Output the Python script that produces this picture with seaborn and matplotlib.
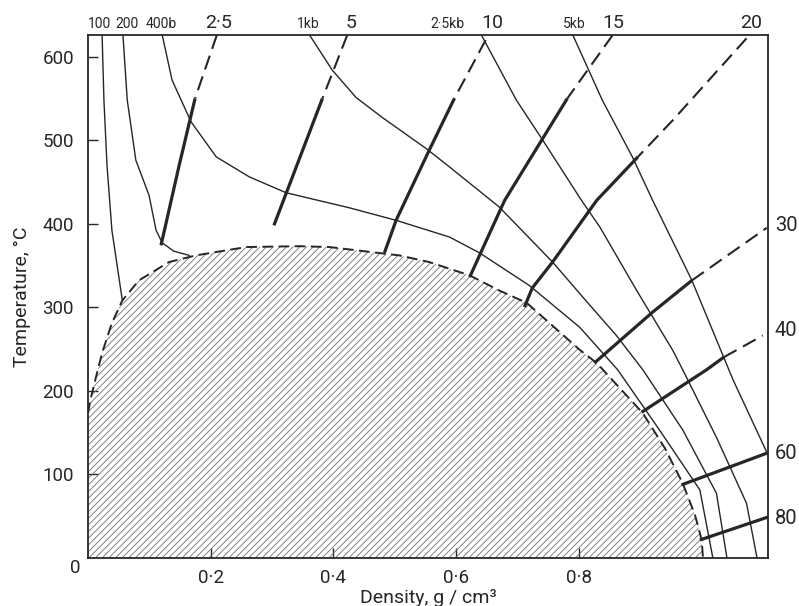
import matplotlib
matplotlib.use("Agg")
import matplotlib.pyplot as plt
import seaborn as sns

# Liquid-vapour boundary (dashed, hatched underneath)
sat_density = [0.0, 0.005, 0.013, 0.023, 0.039, 0.056, 0.083, 0.132, 0.176, 0.258, 0.344, 0.393,
               0.507, 0.556, 0.622, 0.670, 0.715, 0.801, 0.829, 0.904, 0.940, 0.969, 0.989, 1.000, 1.002]
sat_temp = [173, 192, 216, 245, 281, 308, 332, 354, 362, 372, 373, 372,
            362, 354, 338, 320, 305, 249, 233, 173, 131, 89, 51, 21, 0]

# Isobars (thin lines)
p100_d = [0.023, 0.026, 0.031, 0.039, 0.056]
p100_T = [626, 548, 470, 392, 308]
p200_d = [0.057, 0.064, 0.078, 0.0995, 0.111, 0.121, 0.140, 0.165]
p200_T = [626, 548, 476, 434, 392, 377, 367, 362]
p400_d = [0.121, 0.137, 0.168, 0.209, 0.263, 0.323, 0.426, 0.502, 0.589, 0.638, 0.719, 0.801,
          0.863, 0.931, 0.997, 1.018]
p400_T = [626, 572, 522, 480, 456, 437, 419, 404, 384, 365, 326, 276, 225, 153, 81, 0]
p1k_d = [0.361, 0.398, 0.437, 0.480, 0.551, 0.589, 0.670, 0.757, 0.811, 0.861, 0.904, 0.969, 1.024, 1.041]
p1k_T = [626, 584, 551, 527, 490, 468, 420, 354, 308, 266, 225, 153, 77, 0]
p2k5_d = [0.641, 0.698, 0.741, 0.804, 0.834, 0.894, 0.953, 0.969, 1.024, 1.073, 1.090]
p2k5_T = [626, 548, 500, 428, 396, 320, 248, 225, 144, 65, 0]
p5k_d = [0.790, 0.838, 0.887, 0.920, 0.984, 1.051, 1.108]
p5k_T = [626, 548, 480, 428, 332, 213, 123]

# Lines of equal dielectric constant (thick, dashed where extrapolated)
e2_5_d, e2_5_T = [0.1745, 0.148, 0.119], [550, 468, 374]
e2_5_xd, e2_5_xT = [0.210, 0.1745], [626, 550]
e5_d, e5_T = [0.382, 0.303], [550, 398]
e5_xd, e5_xT = [0.4225, 0.382], [626, 550]
e10_d, e10_T = [0.597, 0.556, 0.502, 0.483], [550, 488, 404, 365]
e10_xd, e10_xT = [0.648, 0.597], [620, 550]
e15_d, e15_T = [0.781, 0.679, 0.638, 0.622], [550, 428, 362, 336]
e15_xd, e15_xT = [0.855, 0.781], [626, 550]
e20_d, e20_T = [0.896, 0.829, 0.757, 0.724, 0.711], [480, 428, 354, 323, 300]
e20_xd, e20_xT = [1.073, 0.953, 0.896], [622, 524, 480]
e30_d, e30_T = [0.825, 0.920, 0.984], [233, 294, 332]
e30_xd, e30_xT = [0.984, 1.106], [332, 395]
e40_d, e40_T = [0.902, 1.008, 1.036], [174, 225, 240]
e40_xd, e40_xT = [1.036, 1.0995], [240, 266]
e60_d, e60_T = [0.967, 1.106], [87, 125]
e80_d, e80_T = [0.997, 1.108], [21, 48.5]

top_labels = ["100", "200", "400b", "2·5", "1kb", "5", "2·5kb", "10", "5kb", "15", "20"]
top_label_x = [0.019, 0.064, 0.120, 0.212, 0.359, 0.429, 0.586, 0.659, 0.793, 0.856, 1.080]
top_label_big = [False, False, False, True, False, True, False, True, False, True, True]
right_labels = ["30", "40", "60", "80"]
right_label_T = [398, 272, 125, 47]

xtick_vals = [0.2, 0.4, 0.6, 0.8]
xtick_text = ["0·2", "0·4", "0·6", "0·8"]
ytick_vals = [100, 200, 300, 400, 500, 600]

sns.set_style("ticks")
plt.rcParams["font.family"] = ["Roboto", "DejaVu Sans"]
plt.rcParams["hatch.linewidth"] = 0.6
ink = "#262626"

fig = plt.figure(figsize=(7.99, 6.06), dpi=100)
ax = fig.add_axes([0.1101, 0.0800, 0.8511, 0.8622])

# hatched two-phase region
ax.fill(sat_density + [0.0], sat_temp + [0], facecolor="none", edgecolor="#707070",
        hatch="/////", linewidth=0)
sns.lineplot(x=sat_density, y=sat_temp, sort=False, estimator=None, ax=ax, color=ink,
             linewidth=1.4, linestyle=(0, (5.5, 2.8)))

for d, t in [(p100_d, p100_T), (p200_d, p200_T), (p400_d, p400_T),
             (p1k_d, p1k_T), (p2k5_d, p2k5_T), (p5k_d, p5k_T)]:
    sns.lineplot(x=d, y=t, sort=False, estimator=None, ax=ax, color=ink, linewidth=1.0)

solid = [(e2_5_d, e2_5_T), (e5_d, e5_T), (e10_d, e10_T), (e15_d, e15_T), (e20_d, e20_T),
         (e30_d, e30_T), (e40_d, e40_T), (e60_d, e60_T), (e80_d, e80_T)]
dashed = [(e2_5_xd, e2_5_xT), (e5_xd, e5_xT), (e10_xd, e10_xT), (e15_xd, e15_xT),
          (e20_xd, e20_xT), (e30_xd, e30_xT), (e40_xd, e40_xT)]
for d, t in solid:
    sns.lineplot(x=d, y=t, sort=False, estimator=None, ax=ax, color=ink, linewidth=2.3,
                 solid_capstyle="butt")
for d, t in dashed:
    sns.lineplot(x=d, y=t, sort=False, estimator=None, ax=ax, color=ink, linewidth=1.5,
                 linestyle=(0, (7, 3.5)))

ax.set_xlim(0, 1.108)
ax.set_ylim(0, 626)
ax.set_xticks(xtick_vals)
ax.set_xticklabels(xtick_text)
ax.set_yticks(ytick_vals)
ax.tick_params(direction="in", length=7, width=1, colors=ink, labelsize=13.5, pad=8)
ax.tick_params(axis="y", pad=10)
for sp in ax.spines.values():
    sp.set_visible(True)
    sp.set_linewidth(1.3)
    sp.set_color(ink)

ax.text(-0.019, -0.02, "0", transform=ax.transAxes, ha="center", va="center",
        fontsize=13.5, color=ink)
ax.set_xlabel("Density, g / cm³", fontsize=14, color=ink, labelpad=2)
ax.set_ylabel("Temperature, °C", fontsize=14, color=ink, labelpad=8)

xt = ax.get_xaxis_transform()
for s, x, big in zip(top_labels, top_label_x, top_label_big):
    ax.text(x, 1.013, s, transform=xt, ha="center", va="baseline",
            fontsize=14 if big else 10, color=ink)
yt = ax.get_yaxis_transform()
for s, t in zip(right_labels, right_label_T):
    ax.text(1.010, t, s, transform=yt, ha="left", va="center", fontsize=14.5, color=ink)

fig.savefig("out.png", dpi=100)
